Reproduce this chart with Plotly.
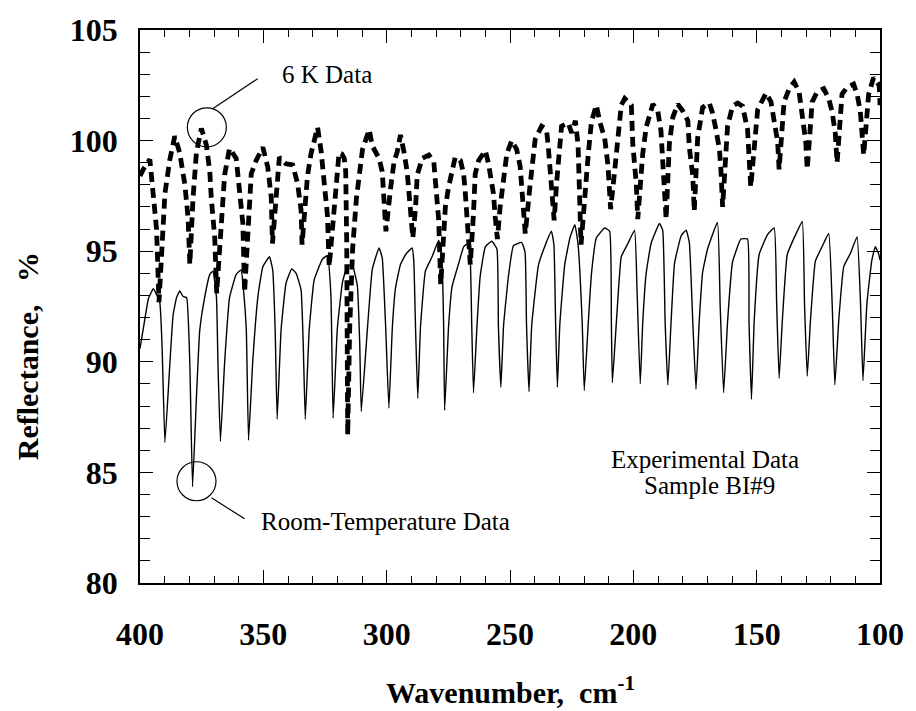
import plotly.graph_objects as go

# Room-temperature reflectance spectrum (thin solid line), one row per fringe
rt_wavenumber = [
    400.0, 398.0, 396.6, 394.6, 392.0, 391.0,
    389.9, 387.9, 386.6, 385.2, 383.9, 382.5, 381.1, 379.8,
    378.7, 377.1, 375.8, 373.8, 371.7, 370.4, 369.0, 368.4,
    367.4, 365.7, 363.7, 361.0, 359.0, 358.0, 356.9,
    356.0, 354.3, 352.2, 350.2, 347.5, 346.2, 345.2,
    344.4, 342.8, 340.8, 338.5, 336.7, 334.7, 333.8,
    333.0, 331.4, 329.4, 326.0, 324.0, 322.6,
    321.7, 320.0, 317.9, 315.9, 313.9, 311.9, 310.9,
    310.3, 307.8, 305.8, 303.1, 301.8, 300.4,
    299.1, 297.7, 296.4, 294.4, 292.3, 289.7, 289.0, 288.3,
    287.4, 286.3, 284.3, 281.6, 278.9, 277.6, 276.9,
    276.5, 274.9, 273.5, 270.8, 268.8, 267.1, 266.1, 265.5,
    264.8, 263.4, 262.1, 260.0, 257.4, 255.3, 254.7,
    253.7, 252.6, 250.6, 248.6, 245.3, 243.9, 243.3,
    242.3, 241.2, 238.5, 235.8, 233.2, 232.2, 231.5,
    230.8, 229.8, 227.8, 225.7, 223.7, 222.4, 220.7,
    219.9, 218.3, 217.0, 215.0, 211.6, 209.6, 208.9,
    208.5, 206.9, 204.9, 202.9, 202.2, 199.5, 198.5,
    197.2, 196.2, 194.8, 192.8, 189.4, 188.1, 187.1,
    186.0, 184.7, 183.3, 180.6, 178.6, 177.3, 175.9,
    174.6, 173.3, 171.9, 169.9, 165.9, 164.8,
    163.4, 161.8, 159.8, 156.4, 153.7, 153.1,
    152.1, 151.0, 149.0, 145.6, 142.9, 141.9,
    140.9, 139.6, 137.6, 134.2, 131.5, 130.6,
    129.5, 128.2, 126.2, 123.5, 120.8, 119.4,
    118.3, 116.7, 114.7, 112.0, 109.3, 107.9,
    106.9, 105.3, 103.3, 101.9, 100.6, 100.0,
]
rt_reflectance = [
    90.6, 91.95, 92.85, 93.3, 92.7, 90.5,
    86.35, 89.9, 92.1, 92.9, 93.2, 92.95, 92.9, 89.9,
    84.35, 88.45, 91.4, 92.9, 93.95, 94.1, 92.9, 89.95,
    86.4, 89.95, 92.9, 93.95, 94.15, 93.2, 91.45,
    86.45, 90.0, 92.95, 94.3, 94.75, 94.15, 91.45,
    87.4, 91.45, 93.55, 94.2, 94.0, 93.25, 90.7,
    87.4, 91.45, 93.7, 94.65, 94.8, 93.0,
    87.45, 91.5, 93.6, 94.35, 94.35, 93.45, 90.75,
    87.75, 91.5, 94.2, 95.15, 94.7, 91.55,
    87.9, 91.55, 93.35, 94.4, 94.85, 95.15, 94.55, 91.55,
    88.35, 91.55, 94.1, 94.75, 95.5, 94.6, 91.6,
    87.8, 91.6, 93.4, 94.45, 95.2, 95.35, 94.6, 91.6,
    88.6, 91.6, 93.85, 95.2, 95.45, 95.1, 91.6,
    88.85, 91.65, 93.9, 95.25, 95.4, 94.95, 91.65,
    88.65, 91.65, 94.35, 95.25, 95.9, 95.3, 91.7,
    88.85, 91.7, 94.4, 95.6, 96.2, 95.3, 91.7,
    88.7, 91.7, 93.95, 95.6, 96.05, 95.9, 91.75,
    89.05, 91.75, 94.75, 95.2, 95.35, 95.95, 93.25,
    89.0, 91.75, 94.0, 95.35, 96.25, 95.95, 91.75,
    88.95, 91.8, 94.45, 95.7, 95.95, 95.4, 91.8,
    88.75, 91.8, 94.05, 95.1, 96.3, 92.55,
    88.6, 91.8, 94.5, 95.55, 95.55, 91.8,
    88.3, 91.85, 94.85, 95.75, 96.05, 92.6,
    89.25, 91.85, 94.85, 95.75, 96.35, 92.6,
    89.35, 91.85, 94.55, 95.2, 95.8, 92.65,
    88.95, 91.9, 94.3, 94.9, 95.65, 92.65,
    89.15, 92.65, 94.6, 95.2, 94.9, 94.6,
]

# 6 K reflectance spectrum (thick dashed line), one row per fringe
lt_wavenumber = [
    400.0, 398.7, 396.0, 393.3,
    392.3, 389.9, 387.9, 385.9, 383.9, 381.8, 380.5,
    379.8, 378.5, 377.1, 375.1, 373.1, 371.7, 371.1, 369.7,
    368.9, 365.7, 363.7, 361.0, 359.6, 358.3,
    357.6, 354.9, 352.9, 350.2, 348.2, 346.8,
    346.3, 343.5, 340.8, 338.1, 336.1, 334.7,
    334.3, 332.1, 330.7, 328.0, 326.6, 325.3, 324.0,
    323.3, 320.6, 319.3, 318.2, 317.2, 316.6, 316.2,
    315.8, 315.0, 313.8, 312.3, 309.8, 307.1, 305.8, 303.1, 301.8, 301.1,
    300.3, 298.4, 297.0, 295.7, 294.4, 293.0, 291.7, 291.0, 290.3,
    289.4, 288.3, 287.6, 285.6, 282.9, 280.9, 280.2, 279.6, 278.9,
    278.1, 276.2, 274.9, 273.5, 272.2, 270.1, 268.8, 268.1, 267.5, 266.8,
    266.1, 264.8, 264.1, 262.7, 260.0, 258.7, 257.4, 256.7, 256.0,
    255.1, 254.0, 252.6, 251.3, 249.3, 247.3, 245.9, 245.3, 244.6,
    243.8, 241.9, 241.2, 239.8, 237.2, 235.2, 234.5, 233.8, 233.1,
    232.1, 231.1, 230.4, 229.1, 226.4, 225.0, 223.5, 222.4,
    221.2, 219.7, 218.3, 217.0, 215.0, 213.6, 211.6, 210.3, 209.6,
    209.2, 207.6, 206.2, 204.9, 203.5, 200.8, 200.2, 199.5, 198.8,
    198.2, 196.2, 194.8, 192.1, 190.1, 188.8, 188.1, 187.4,
    186.7, 185.4, 184.0, 182.0, 180.0, 177.9, 177.3, 175.9,
    175.3, 173.9, 171.9, 169.2, 167.9, 166.5, 165.1, 164.5,
    163.8, 161.8, 159.8, 157.7, 155.7, 153.7, 153.0,
    152.4, 149.6, 147.6, 146.2, 144.2, 142.9, 141.5,
    140.9, 138.9, 136.8, 134.8, 132.8, 131.5, 130.1,
    129.5, 127.5, 125.5, 122.8, 120.8, 119.4, 118.1,
    117.4, 115.4, 113.4, 110.7, 109.3, 108.0, 107.3,
    106.6, 104.6, 102.6, 100.3, 100.0,
]
lt_reflectance = [
    98.4, 98.7, 99.15, 96.0,
    92.7, 97.6, 99.15, 100.2, 99.45, 98.0, 96.5,
    94.4, 97.4, 99.5, 100.55, 99.8, 98.6, 97.4, 95.6,
    93.1, 98.45, 99.65, 99.2, 97.7, 96.25,
    93.15, 98.5, 99.1, 99.7, 98.8, 97.45,
    95.35, 99.25, 98.95, 98.9, 98.05, 96.85,
    95.3, 98.4, 99.4, 100.6, 99.55, 98.1, 96.6,
    94.3, 98.1, 99.45, 99.4, 99.2, 98.6, 95.4,
    86.7, 91.5, 95.1, 97.35, 99.6, 100.5, 99.75, 99.2, 98.6, 96.9,
    95.9, 97.85, 99.05, 99.5, 100.25, 99.5, 98.6, 97.7, 96.95,
    95.6, 96.95, 98.45, 99.2, 99.35, 99.05, 98.15, 97.25, 96.4,
    93.5, 97.0, 97.9, 98.5, 99.25, 99.1, 98.5, 97.6, 96.7, 95.8,
    94.4, 96.7, 98.5, 99.1, 99.55, 98.95, 98.2, 97.6, 96.55,
    95.55, 97.0, 98.4, 99.4, 100.0, 99.6, 98.85, 97.95, 96.75,
    95.8, 97.95, 98.85, 100.05, 100.65, 100.5, 99.75, 98.85, 97.8,
    96.4, 98.1, 98.85, 100.65, 100.8, 100.35, 100.9, 99.8,
    95.3, 97.7, 99.35, 100.85, 101.6, 100.85, 100.1, 98.9, 97.7,
    96.9, 98.6, 100.1, 101.6, 101.9, 101.6, 99.8, 98.95, 98.05,
    96.45, 99.4, 100.6, 101.65, 101.35, 100.45, 99.1, 98.05,
    96.45, 99.85, 101.05, 101.65, 101.35, 100.9, 99.7, 98.4,
    96.8, 100.15, 101.5, 101.7, 101.25, 100.5, 99.6, 98.7,
    97.0, 100.65, 101.55, 101.7, 101.55, 100.5, 99.45,
    97.9, 101.4, 101.85, 102.15, 101.75, 100.7, 99.95,
    98.7, 101.75, 102.35, 102.65, 102.2, 101.15, 99.95,
    98.7, 101.75, 102.2, 102.35, 101.9, 101.3, 100.3,
    99.0, 102.1, 102.4, 102.55, 102.1, 101.35, 100.3,
    99.35, 102.1, 102.85, 102.5, 101.6,
]

x_ticks = [400, 350, 300, 250, 200, 150, 100]
y_ticks = [80, 85, 90, 95, 100, 105]

SERIF = "Liberation Serif, Times New Roman, serif"

fig = go.Figure()
fig.add_trace(go.Scatter(
    x=rt_wavenumber, y=rt_reflectance, mode="lines",
    line=dict(color="black", width=1.4, shape="spline", smoothing=0.35),
    name="Room-Temperature Data", showlegend=False,
))
fig.add_trace(go.Scatter(
    x=lt_wavenumber, y=lt_reflectance, mode="lines",
    line=dict(color="black", width=4.8, dash="10px,6px"),
    name="6 K Data", showlegend=False,
))

axis_common = dict(
    showgrid=False, zeroline=False,
    showline=True, linecolor="black", linewidth=1.5, mirror="ticks",
    ticks="inside", tickcolor="black", tickwidth=1.2,
    tickfont=dict(family=SERIF, size=32, color="black", weight="bold"),
)
fig.update_xaxes(
    range=[400, 100], tickvals=x_ticks, ticklen=13,
    minor=dict(dtick=10, ticks="inside", ticklen=7, tickcolor="black", tickwidth=1.1),
    ticklabelstandoff=22,
    **axis_common,
)
fig.update_yaxes(
    range=[80, 105], tickvals=y_ticks, ticklen=13,
    minor=dict(dtick=1, ticks="inside", ticklen=10, tickcolor="black", tickwidth=1.1),
    ticklabelstandoff=14,
    **axis_common,
)

circle_style = dict(type="circle", xref="x", yref="y", xsizemode="pixel", ysizemode="pixel",
                    x0=-19.5, x1=19.5, y0=-19.5, y1=19.5, line=dict(color="black", width=1.2))
line_style = dict(type="line", xref="x", yref="y", line=dict(color="black", width=1.2))
fig.update_layout(shapes=[
    dict(xanchor=372.9, yanchor=100.6, **circle_style),
    dict(x0=370.4, y0=101.45, x1=352.3, y1=102.8, **line_style),
    dict(xanchor=377.1, yanchor=84.6, **circle_style),
    dict(x0=371.0, y0=83.85, x1=357.6, y1=82.9, **line_style),
])

note_font = dict(family=SERIF, size=25, color="black")
title_font = dict(family=SERIF, size=30, color="black", weight="bold")
fig.update_layout(annotations=[
    dict(x=324.3, y=103.0, xref="x", yref="y", text="6 K Data", showarrow=False,
         xanchor="center", yanchor="middle", font=note_font),
    dict(x=351.6, y=82.8, xref="x", yref="y", text="Room-Temperature Data", showarrow=False,
         xanchor="left", yanchor="middle", font=note_font),
    dict(x=171.1, y=85.6, xref="x", yref="y", text="Experimental Data", showarrow=False,
         xanchor="center", yanchor="middle", font=note_font),
    dict(x=169.1, y=84.4, xref="x", yref="y", text="Sample BI#9", showarrow=False,
         xanchor="center", yanchor="middle", font=note_font),
    dict(x=0.5, y=0, xref="paper", yref="paper", yshift=-107,
         text="Wavenumber,  cm<sup>-1</sup>", showarrow=False,
         xanchor="center", yanchor="middle", font=title_font),
    dict(x=0, y=0.41, xref="paper", yref="paper", xshift=-113,
         text="Reflectance,   %", textangle=-90, showarrow=False,
         xanchor="center", yanchor="middle", font=title_font),
])

fig.update_layout(
    width=916, height=711,
    margin=dict(l=140, r=33, t=26, b=128),
    paper_bgcolor="white", plot_bgcolor="white",
    showlegend=False,
)

fig.write_html("out.html")
